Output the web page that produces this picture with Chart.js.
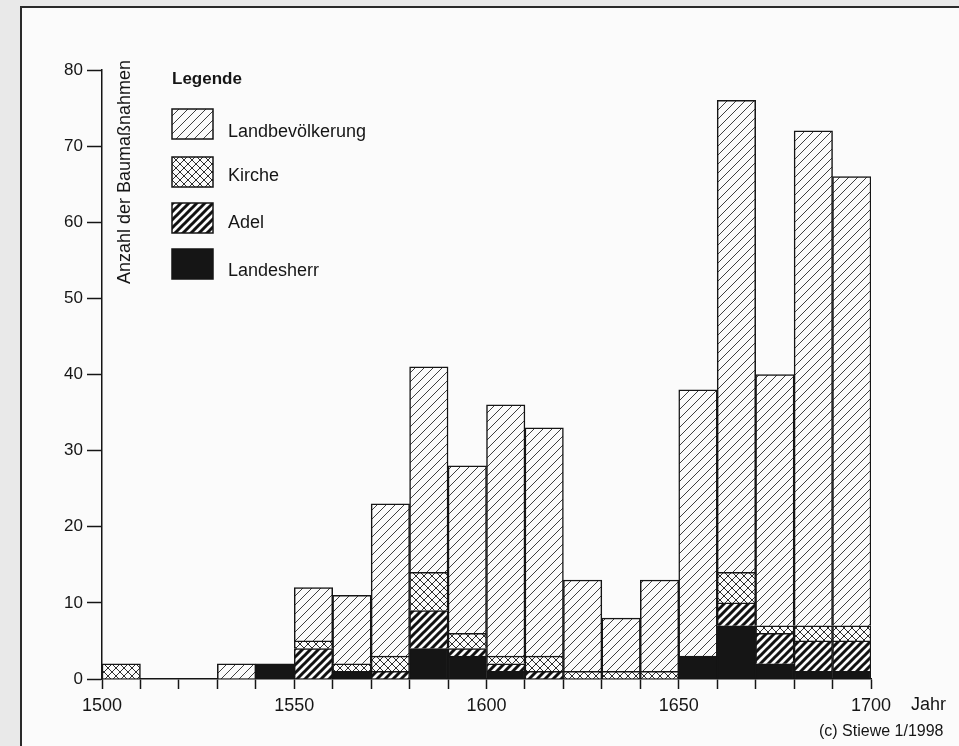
<!DOCTYPE html>
<html>
<head>
<meta charset="utf-8">
<title>Baumaßnahmen 1500-1700</title>
<script src="https://cdn.jsdelivr.net/npm/chart.js@4.4.0/dist/chart.umd.min.js"></script>
<style>
  html, body { margin: 0; padding: 0; background: #e9e9e9; }
  #wrap { width: 959px; height: 746px; }
</style>
</head>
<body>
<div id="wrap"><canvas id="graph_1" width="959" height="746"></canvas></div>
<script>
// Jahrzehnte (Beginn), 1500-1690
var decades = [1500, 1510, 1520, 1530, 1540, 1550, 1560, 1570, 1580, 1590,
               1600, 1610, 1620, 1630, 1640, 1650, 1660, 1670, 1680, 1690];

var landesherr = [0, 0, 0, 0, 2, 0, 1, 0, 4, 3, 1, 0, 0, 0, 0, 3, 7, 2, 1, 1];
var adel       = [0, 0, 0, 0, 0, 4, 0, 1, 5, 1, 1, 1, 0, 0, 0, 0, 3, 4, 4, 4];
var kirche     = [2, 0, 0, 0, 0, 1, 1, 2, 5, 2, 1, 2, 1, 1, 1, 0, 4, 1, 2, 2];
var landbev    = [0, 0, 0, 2, 0, 7, 9, 20, 27, 22, 33, 30, 12, 7, 12, 35, 62, 33, 65, 59];

var xTickLabels = [1500, 1550, 1600, 1650, 1700];
var yTicks = [0, 10, 20, 30, 40, 50, 60, 70, 80];

var FONT = 'Liberation Sans, Arial, Helvetica, sans-serif';
var INK = '#151515';

// hatch patterns
function makeHatch(size, width, color, cross) {
  var c = document.createElement('canvas');
  c.width = size; c.height = size;
  var g = c.getContext('2d');
  g.fillStyle = '#fbfbfb';
  g.fillRect(0, 0, size, size);
  g.strokeStyle = color;
  g.lineWidth = width;
  g.beginPath();
  // "/" lines
  g.moveTo(-1, size + 1); g.lineTo(size + 1, -1);
  g.moveTo(-size / 2 - 1, size / 2 + 1); g.lineTo(size / 2 + 1, -size / 2 - 1);
  g.moveTo(size / 2 - 1, size * 1.5 + 1); g.lineTo(size * 1.5 + 1, size / 2 - 1);
  if (cross) {
    // "\" lines
    g.moveTo(-1, -1); g.lineTo(size + 1, size + 1);
    g.moveTo(size / 2 - 1, -size / 2 - 1); g.lineTo(size * 1.5 + 1, size / 2 + 1);
    g.moveTo(-size / 2 - 1, size / 2 - 1); g.lineTo(size / 2 + 1, size * 1.5 + 1);
  }
  g.stroke();
  return g.createPattern(c, 'repeat');
}

var patLandbev = makeHatch(9, 1, '#404040', false);
var patKirche = makeHatch(8, 1, '#2e2e2e', true);
var patAdel = makeHatch(8, 3, '#111', false);
var fillLandesherr = '#151515';

function toPoints(arr) {
  var pts = [];
  for (var i = 0; i < decades.length; i++) {
    pts.push({ x: decades[i] + 5, y: arr[i] === 0 ? null : arr[i] });
  }
  return pts;
}

function ds(label, arr, fill) {
  return {
    label: label,
    data: toPoints(arr),
    backgroundColor: fill,
    borderColor: INK,
    borderWidth: 1.5,
    categoryPercentage: 1.0,
    barPercentage: 1.0
  };
}

// background + frame of the scanned page
var pagePlugin = {
  id: 'page',
  beforeDraw: function(chart) {
    var c = chart.ctx;
    c.save();
    c.fillStyle = '#e9e9e9';
    c.fillRect(0, 0, chart.width, chart.height);
    c.fillStyle = '#fbfbfb';
    c.fillRect(21, 7, chart.width - 21, chart.height - 7);
    c.strokeStyle = '#2a2a2a';
    c.lineWidth = 2;
    c.beginPath();
    c.moveTo(21, chart.height);
    c.lineTo(21, 7);
    c.lineTo(chart.width, 7);
    c.stroke();
    c.restore();
  }
};

// legend, axis title and captions
var textPlugin = {
  id: 'texts',
  afterDraw: function(chart) {
    var c = chart.ctx;
    c.save();
    c.fillStyle = INK;
    c.textBaseline = 'middle';

    // y title inside plot
    c.save();
    c.translate(125, 172);
    c.rotate(-Math.PI / 2);
    c.textAlign = 'center';
    c.font = '18px ' + FONT;
    c.fillText('Anzahl der Baumaßnahmen', 0, 0);
    c.restore();

    c.textAlign = 'left';
    c.font = 'bold 17px ' + FONT;
    c.fillText('Legende', 172, 79);

    var boxTops = [109, 157, 203, 249];
    var textY = [132, 176, 223, 271];
    var sets = chart.data.datasets;
    c.font = '18px ' + FONT;
    for (var i = 0; i < 4; i++) {
      var d = sets[3 - i];
      c.fillStyle = d.backgroundColor;
      c.fillRect(172, boxTops[i], 41, 30);
      c.strokeStyle = INK;
      c.lineWidth = 1.5;
      c.strokeRect(172, boxTops[i], 41, 30);
      c.fillStyle = INK;
      c.fillText(d.label, 228, textY[i]);
    }

    c.font = '18px ' + FONT;
    c.fillText('Jahr', 911, 705);
    c.font = '16px ' + FONT;
    c.fillText('(c) Stiewe 1/1998', 819, 732);
    c.restore();
  }
};

var ctx = document.getElementById('graph_1');
var myChart = new Chart(ctx, {
  type: 'bar',
  data: {
    datasets: [
      ds('Landesherr', landesherr, fillLandesherr),
      ds('Adel', adel, patAdel),
      ds('Kirche', kirche, patKirche),
      ds('Landbevölkerung', landbev, patLandbev)
    ]
  },
  options: {
    responsive: false,
    animation: false,
    devicePixelRatio: 1,
    layout: { padding: { left: 0, right: 88, top: 70, bottom: 0 } },
    plugins: {
      legend: { display: false },
      tooltip: { enabled: false }
    },
    scales: {
      x: {
        type: 'linear',
        stacked: true,
        offset: false,
        min: decades[0],
        max: xTickLabels[xTickLabels.length - 1],
        afterFit: function(s) { s.height = 67; },
        grid: { offset: false, drawOnChartArea: false, drawTicks: true, tickLength: 10, tickColor: INK, tickWidth: 1.5 },
        border: { display: true, color: INK, width: 1.5 },
        ticks: {
          stepSize: 10,
          autoSkip: false,
          maxRotation: 0,
          padding: 6,
          color: INK,
          font: { family: FONT, size: 18 },
          callback: function(v) { return xTickLabels.indexOf(v) >= 0 ? String(v) : ''; }
        }
      },
      y: {
        stacked: true,
        min: yTicks[0],
        max: yTicks[yTicks.length - 1],
        afterFit: function(s) { s.width = 102; },
        grid: { drawOnChartArea: false, drawTicks: true, tickLength: 15, tickColor: INK, tickWidth: 1.5 },
        border: { display: true, color: INK, width: 1.5 },
        ticks: {
          stepSize: 10,
          padding: 4,
          color: INK,
          font: { family: FONT, size: 17 },
          callback: function(v) { return String(v); }
        }
      }
    }
  },
  plugins: [pagePlugin, textPlugin]
});
</script>
</body>
</html>
